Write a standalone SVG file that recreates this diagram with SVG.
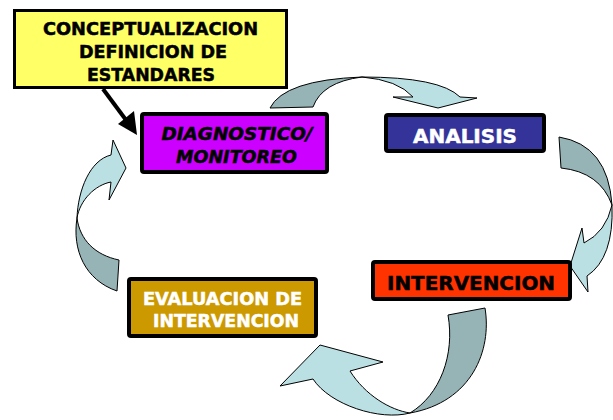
<svg xmlns="http://www.w3.org/2000/svg" width="613" height="420" viewBox="0 0 613 420">
<defs>
<style>
.box{stroke:#000;stroke-width:4}
.t{font-family:"DejaVu Sans","Verdana",sans-serif;font-weight:bold;text-anchor:middle;stroke-width:0.5}
.b{fill:#000;stroke:#000}
.w{fill:#fff;stroke:#fff}
.dk{fill:#96B3B6;stroke:#000;stroke-width:1;stroke-linejoin:round}
.lt{fill:#BBE0E4;stroke:#000;stroke-width:1;stroke-linejoin:round}
</style>
</defs>
<rect width="613" height="420" fill="#fff"/>
<g id="connectors">
<path class="dk" d="M270,108 Q284,80 362,77 Q322,82 313,107 Z"/>
<path class="lt" d="M362,77 Q440,77 460,97 L477,98 L438,108 L393,97 L413,97 Q398,80 362,77 Z"/>
<path class="dk" d="M559,137 Q608,145 612,205 Q600,172 561,168 Z"/>
<path class="lt" d="M612,205 Q614,258 587,276 L588,292 L570,266 L582,228 L584,243 Q606,232 612,205 Z"/>
<path class="dk" d="M485,308 C492,350 472,402 410,413 C440,395 455,355 448,315 Z"/>
<path class="lt" d="M410,413 C380,421 330,405 313,379 L280,386 L320,345 L383,362 L350,371 C365,395 390,410 410,413 Z"/>
<path class="dk" d="M117,291 C85,280 72,250 77,218 C80,240 95,255 119,260 Z"/>
<path class="lt" d="M77,218 C78,190 90,160 111,155 L113,140 L126,168 L109,200 L111,182 C95,185 80,200 77,218 Z"/>
<line x1="103" y1="89" x2="126" y2="120" stroke="#000" stroke-width="4"/>
<polygon points="137,135 118,124 134,111" fill="#000"/>
</g>
<g id="conceptualizacion">
<rect x="14.5" y="10.5" width="272" height="77" fill="#FFFF66" stroke="#000" stroke-width="3"/>
<text class="t b" x="150.5" y="35" font-size="17.7" textLength="215" lengthAdjust="spacingAndGlyphs">CONCEPTUALIZACION</text>
<text class="t b" x="153" y="58" font-size="17.7" textLength="148" lengthAdjust="spacingAndGlyphs">DEFINICION DE</text>
<text class="t b" x="151" y="81" font-size="17.7" textLength="128" lengthAdjust="spacingAndGlyphs">ESTANDARES</text>
</g>
<g id="diagnostico">
<rect class="box" x="142" y="114" width="185" height="58" rx="2" fill="#CC00FF"/>
<text class="t b" x="237" y="140" font-size="18" font-style="italic" textLength="151" lengthAdjust="spacingAndGlyphs">DIAGNOSTICO/</text>
<text class="t b" x="236.5" y="163" font-size="18" font-style="italic" textLength="121" lengthAdjust="spacingAndGlyphs">MONITOREO</text>
</g>
<g id="analisis">
<rect class="box" x="386" y="115" width="158" height="36" rx="2" fill="#333399"/>
<text class="t w" x="465" y="143" font-size="20" textLength="104" lengthAdjust="spacingAndGlyphs">ANALISIS</text>
</g>
<g id="intervencion">
<rect class="box" x="373" y="262" width="197" height="37" rx="2" fill="#FF3300"/>
<text class="t b" x="471" y="290" font-size="20" textLength="168" lengthAdjust="spacingAndGlyphs">INTERVENCION</text>
</g>
<g id="evaluacion">
<rect class="box" x="129" y="279" width="187" height="57" rx="2" fill="#CC9900"/>
<text class="t w" x="222.5" y="305" font-size="17" textLength="159" lengthAdjust="spacingAndGlyphs">EVALUACION DE</text>
<text class="t w" x="226" y="327" font-size="17" textLength="146" lengthAdjust="spacingAndGlyphs">INTERVENCION</text>
</g>
</svg>
